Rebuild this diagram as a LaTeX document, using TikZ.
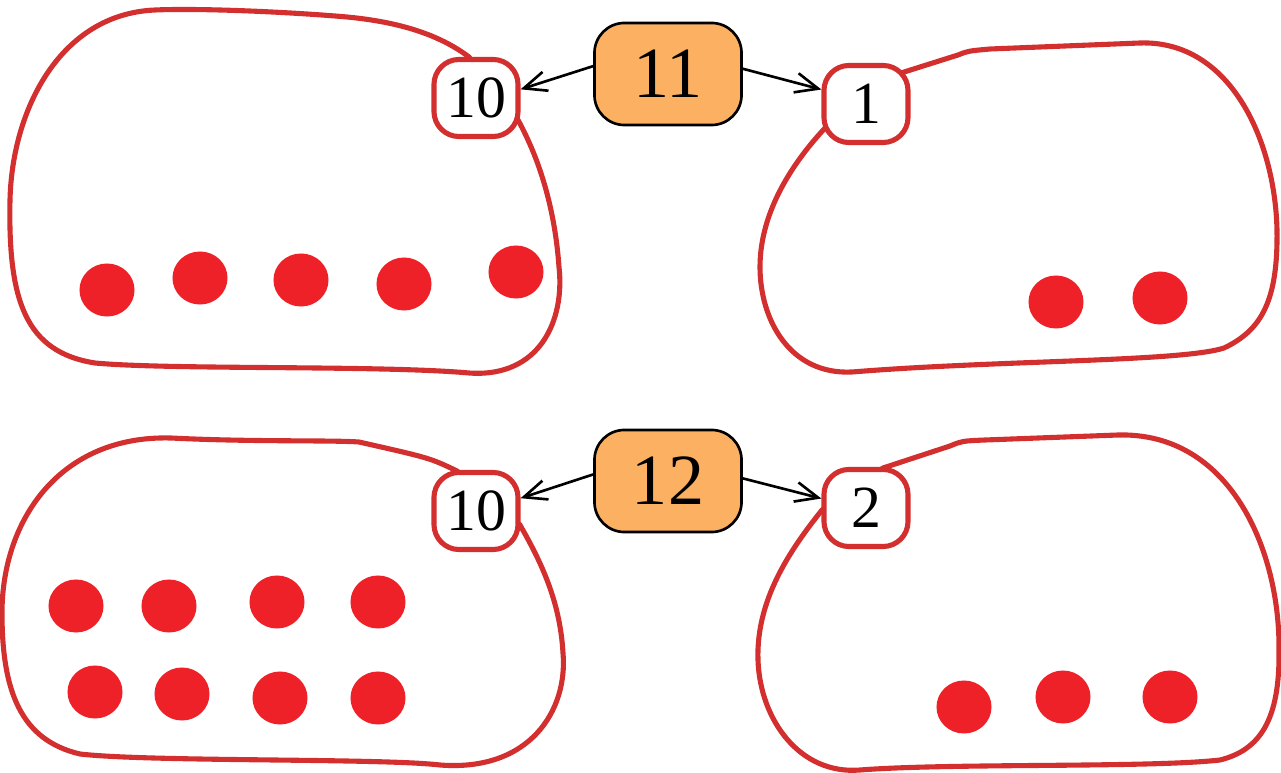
\documentclass[tikz,border=0pt]{standalone}
\usepackage{fontspec}
\setmainfont{Liberation Serif}
\usetikzlibrary{arrows.meta}
\definecolor{blobred}{RGB}{211,47,47}
\definecolor{dotred}{RGB}{237,33,39}
\definecolor{boxorange}{RGB}{251,176,98}
\begin{document}
\begin{tikzpicture}[x=0.01cm,y=-0.01cm,
  blob/.style={draw=blobred,line width=1.45pt,line join=round},
  dot/.style={fill=dotred},
  part/.style={draw=blobred,line width=1.45pt,fill=white,rounded corners=0.25cm,minimum width=0.84cm,minimum height=0.77cm,inner sep=0pt,font=\fontsize{17}{17}\selectfont},
  total/.style={draw=black,line width=0.75pt,fill=boxorange,rounded corners=0.3cm,minimum width=1.47cm,minimum height=1.02cm,inner sep=0pt,font=\fontsize{20.5}{20.5}\selectfont},
  link/.style={line width=0.75pt,-{Straight Barb[length=6.5pt,width=5.6pt]}}]
\useasboundingbox (0,0) rectangle (1281,773);
\draw[blob] (469,57) .. controls (440,35) and (400,22) .. (347,17)
  .. controls (290,12) and (200,8) .. (155,10)
  .. controls (60,14) and (12,110) .. (10,200)
  .. controls (8,300) and (25,352) .. (95,363)
  .. controls (170,370) and (380,365) .. (469,373)
  .. controls (540,378) and (565,320) .. (559,267)
  .. controls (555,210) and (540,160) .. (518,120) -- cycle;
\draw[blob] (901,73) -- (958,55) .. controls (968,51) .. (990,49) -- (1140,43)
  .. controls (1230,40) and (1275,140) .. (1277,230)
  .. controls (1278,300) and (1262,330) .. (1224,348)
  .. controls (1180,362) and (1000,360) .. (852,372)
  .. controls (790,375) and (760,320) .. (760,267)
  .. controls (760,210) and (795,160) .. (826,127) -- cycle;
\draw[blob] (457,471) .. controls (430,458) .. (359,442)
  .. controls (330,440) and (250,442) .. (171,438)
  .. controls (60,435) and (2,520) .. (2,613)
  .. controls (2,690) and (20,740) .. (80,754)
  .. controls (150,762) and (380,758) .. (440,765)
  .. controls (530,772) and (568,710) .. (563,653)
  .. controls (560,600) and (540,560) .. (520,525) -- cycle;
\draw[blob] (883,468) -- (950,446) .. controls (962,441) .. (985,440) -- (1118,435)
  .. controls (1230,432) and (1280,550) .. (1279,650)
  .. controls (1280,720) and (1260,750) .. (1220,760)
  .. controls (1150,768) and (950,763) .. (860,770)
  .. controls (800,775) and (760,720) .. (758,660)
  .. controls (756,600) and (790,550) .. (822,510) -- cycle;
\foreach \x/\y in {107/290,200/278,301/280,404/284,516/272,1056/302,1160/298,76/606,169/606,277/602,378/602,95/692,182/694,280/698,378/698,964/707,1063/697,1170/697}
  \fill[dot] (\x,\y) ellipse [x radius=0.275cm,y radius=0.265cm];
\node[part] (p10a) at (476,98) {10};
\node[part] (p1) at (866,104) {1};
\node[total] (s11) at (668,74) {11};
\node[part] (p10b) at (476,511) {10};
\node[part] (p2) at (866,508) {2};
\node[total] (s12) at (668,481) {12};
\draw[link] (s11.174) -- (p10a.11);
\draw[link] (s11.4) -- (p1.162);
\draw[link] (s12.175) -- (p10b.16);
\draw[link] (s12.2) -- (p2.168);
\end{tikzpicture}
\end{document}
